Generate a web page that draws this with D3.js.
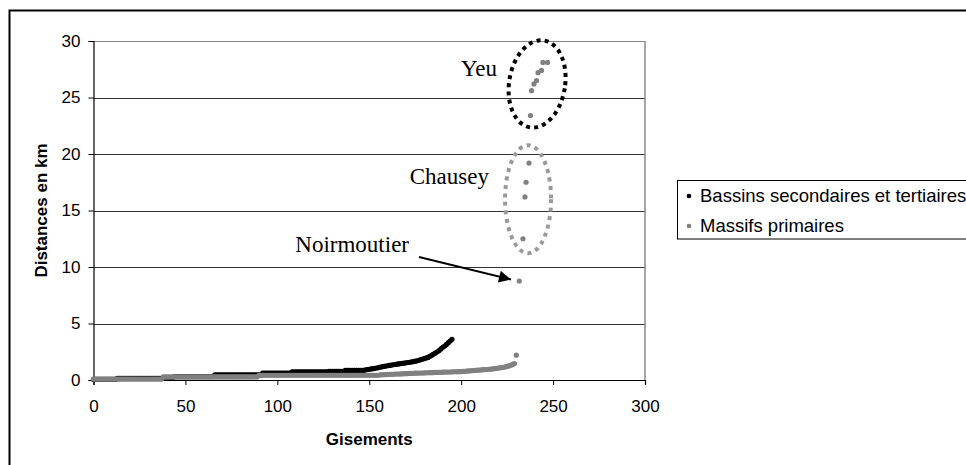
<!DOCTYPE html>
<html>
<head>
<meta charset="utf-8">
<script src="https://cdn.jsdelivr.net/npm/d3@7"></script>
<style>
  html, body { margin: 0; padding: 0; background: #fff; }
  svg { display: block; }
</style>
</head>
<body>
<svg id="chart" width="966" height="465"></svg>
<script>
// ---------- DATA ----------
const seriesNames = ["Bassins secondaires et tertiaires", "Massifs primaires"];

// Bassins secondaires et tertiaires: sorted distances (km), x = rank (0..195)
const bassinsValues = [
  0.05,0.05,0.05,0.05,0.05,0.05,0.05,0.05,0.05,0.05,0.05,0.05,0.05,
  0.15,0.15,0.15,0.15,0.15,0.15,0.15,0.15,0.15,0.15,0.15,0.15,0.15,0.15,0.15,0.15,0.15,0.15,0.15,0.15,0.15,0.15,0.15,0.15,0.15,
  0.2,0.2,0.2,0.2,0.2,0.2,
  0.3,0.3,0.3,0.3,0.3,0.3,0.3,0.3,0.3,0.3,0.3,0.3,0.3,0.3,0.3,0.3,0.3,0.3,0.3,0.3,0.3,0.3,
  0.45,0.45,0.45,0.45,0.45,0.45,0.45,0.45,0.45,0.45,0.45,0.45,0.45,0.45,0.45,0.45,0.45,0.45,0.45,0.45,0.45,0.45,0.45,0.45,0.45,0.45,
  0.6,0.6,0.6,0.6,0.6,0.6,0.6,0.6,0.6,0.6,0.6,0.6,0.6,0.6,0.6,0.6,
  0.72,0.72,0.72,0.72,0.72,0.72,0.72,0.72,0.72,0.72,0.72,0.72,0.72,0.72,0.72,0.72,0.72,0.72,0.72,0.72,
  0.77,0.77,0.77,0.77,0.77,0.77,0.77,0.77,0.77,
  0.85,0.85,0.85,0.85,0.85,0.85,0.85,0.85,0.85,0.85,0.85,
  0.9,0.92,0.95,0.98,1.0,1.03,1.06,1.1,
  1.14,1.17,1.2,1.23,1.26,1.29,1.32,1.35,1.37,1.4,1.42,1.45,1.47,1.5,1.52,1.55,1.57,1.6,
  1.63,1.67,1.7,1.75,1.8,1.85,1.9,1.95,2.0,2.1,
  2.2,2.3,2.4,2.5,2.6,2.75,2.9,
  3.0,3.15,3.3,3.45,3.6
];

// Massifs primaires: sorted distances (km), x = rank (0..230)
const massifsValues = [
  0.08,0.08,0.08,0.08,0.08,0.08,0.08,0.08,0.08,0.08,0.08,0.08,0.08,0.08,0.08,0.08,0.08,0.08,0.08,0.08,
  0.08,0.08,0.08,0.08,0.08,0.08,0.08,0.08,0.08,0.08,0.08,0.08,0.08,0.08,0.08,0.08,0.08,0.08,
  0.27,0.27,0.27,0.27,0.27,0.27,0.27,0.27,0.27,0.27,0.27,0.27,0.27,0.27,0.27,0.27,0.27,0.27,0.27,0.27,
  0.27,0.27,0.27,0.27,0.27,0.27,0.27,0.27,0.27,0.27,0.27,0.27,0.27,0.27,0.27,0.27,0.27,0.27,0.27,0.27,
  0.27,0.27,0.27,0.27,0.27,0.27,0.27,0.27,0.27,0.27,0.27,0.27,
  0.42,0.42,0.42,0.42,0.42,0.42,0.42,0.42,0.42,0.42,0.42,0.42,0.42,0.42,0.42,0.42,0.42,0.42,0.42,0.42,
  0.42,0.42,0.42,0.42,0.42,0.42,0.42,0.42,0.42,0.42,0.42,0.42,0.42,0.42,0.42,0.42,0.42,0.42,0.42,0.42,
  0.42,0.42,0.42,0.42,0.42,0.42,0.42,0.42,0.42,0.42,0.42,0.42,0.42,0.42,0.42,0.42,0.42,0.42,0.42,0.42,
  0.42,0.42,0.42,0.42,0.42,0.42,
  0.46,0.47,0.47,0.48,0.49,0.5,0.5,0.51,0.52,0.53,0.53,0.54,0.55,0.56,0.56,0.57,0.58,0.59,0.59,0.6,
  0.61,0.61,0.62,0.62,0.63,0.64,0.64,0.65,0.65,0.66,0.67,0.67,0.68,0.68,0.69,0.7,0.7,0.71,0.71,0.72,0.73,0.73,0.74,0.74,0.75,
  0.76,0.77,0.79,0.8,0.81,0.83,0.84,0.85,0.87,0.88,0.89,0.91,0.92,0.93,0.95,0.96,
  0.98,1.0,1.02,1.05,1.08,1.1,1.13,1.16,1.2,1.25,
  1.3,1.38,1.45,
  2.2
];

// Massifs primaires: isolated deposits (Noirmoutier, Chausey, Yeu)
const outlierX = [231.6, 233.6, 234.7, 235.3, 236.9, 237.7, 238.3, 239.6, 241.0, 241.8, 243.7, 244.5, 247.0];
const outlierY = [8.76, 12.5, 16.2, 17.5, 19.2, 23.4, 25.6, 26.2, 26.5, 27.2, 27.4, 28.1, 28.1];

const xTicks = [0, 50, 100, 150, 200, 250, 300];
const yTicks = [0, 5, 10, 15, 20, 25, 30];
const xTitle = "Gisements";
const yTitle = "Distances en km";

// annotation labels (island names)
const annoNames = ["Yeu", "Chausey", "Noirmoutier"];

// ---------- LAYOUT ----------
const svg = d3.select("#chart");
const x = d3.scaleLinear().domain([0, 300]).range([93.5, 645]);
const y = d3.scaleLinear().domain([0, 30]).range([380, 41]);
const colBlack = "#000000", colGray = "#808080";
const fontSans = '"Liberation Sans", Arial, sans-serif';
const fontSerif = '"Liberation Serif", "Times New Roman", serif';

// outer frame
svg.append("rect").attr("x", 9.5).attr("y", 10.5).attr("width", 1000).attr("height", 1000)
  .attr("fill", "none").attr("stroke", "#000").attr("stroke-width", 2);

// gridlines
svg.append("g").selectAll("line").data(yTicks.filter(d => d > 0 && d < 30)).join("line")
  .attr("x1", x(0)).attr("x2", x(300))
  .attr("y1", d => Math.round(y(d)) + 0.5).attr("y2", d => Math.round(y(d)) + 0.5)
  .attr("stroke", "#333").attr("stroke-width", 1);
// top & right plot border (gray)
svg.append("line").attr("x1", x(0)).attr("x2", x(300)).attr("y1", y(30) + 0.5).attr("y2", y(30) + 0.5)
  .attr("stroke", "#888").attr("stroke-width", 1);
svg.append("line").attr("x1", x(300)).attr("x2", x(300)).attr("y1", y(30)).attr("y2", y(0))
  .attr("stroke", "#888").attr("stroke-width", 1.5);

// axes
const xAxis = svg.append("g").attr("transform", `translate(0,${y(0)})`)
  .call(d3.axisBottom(x).tickValues(xTicks).tickSize(5).tickPadding(15).tickFormat(d3.format("d")));
const yAxis = svg.append("g").attr("transform", `translate(${x(0)},0)`)
  .call(d3.axisLeft(y).tickValues(yTicks).tickSize(5).tickPadding(8).tickFormat(d3.format("d")));
[xAxis, yAxis].forEach(g => {
  g.select(".domain").attr("stroke", "#000").attr("stroke-width", 1.2);
  g.selectAll(".tick line").attr("stroke", "#000");
  g.selectAll(".tick text").attr("font-family", fontSans).attr("font-size", 17).attr("fill", "#000");
});

// axis titles
svg.append("text").attr("x", (x(0) + x(300)) / 2).attr("y", 445).attr("text-anchor", "middle")
  .attr("font-family", fontSans).attr("font-weight", "bold").attr("font-size", 17).text(xTitle);
svg.append("text").attr("transform", `translate(46.5,${(y(0) + y(30)) / 2}) rotate(-90)`)
  .attr("text-anchor", "middle")
  .attr("font-family", fontSans).attr("font-weight", "bold").attr("font-size", 17).text(yTitle);

// data points
const rDot = 2.6;
svg.append("g").selectAll("circle").data(bassinsValues).join("circle")
  .attr("cx", (d, i) => x(i)).attr("cy", d => y(d)).attr("r", rDot).attr("fill", colBlack);
svg.append("g").selectAll("circle").data(massifsValues).join("circle")
  .attr("cx", (d, i) => x(i)).attr("cy", d => y(d)).attr("r", rDot).attr("fill", colGray);
svg.append("g").selectAll("circle").data(outlierX.map((v, i) => [v, outlierY[i]])).join("circle")
  .attr("cx", d => x(d[0])).attr("cy", d => y(d[1])).attr("r", rDot).attr("fill", colGray);

// ---------- ANNOTATIONS ----------
// Yeu ellipse (black dotted)
svg.append("ellipse")
  .attr("cx", 0).attr("cy", 0).attr("rx", 28).attr("ry", 44)
  .attr("transform", `translate(${x(241.3)},${y(26.2)}) rotate(9)`)
  .attr("fill", "none").attr("stroke", "#000").attr("stroke-width", 4)
  .attr("stroke-dasharray", "4 4.2");
// Chausey ellipse (gray dotted)
svg.append("ellipse")
  .attr("cx", x(236.4)).attr("cy", y(16.0)).attr("rx", 23).attr("ry", 54)
  .attr("fill", "none").attr("stroke", "#999").attr("stroke-width", 4)
  .attr("stroke-dasharray", "4 4.5");

// labels
const annoPos = [[497, 76], [489, 184], [409, 252]];
svg.append("g").selectAll("text").data(annoNames).join("text")
  .attr("x", (d, i) => annoPos[i][0]).attr("y", (d, i) => annoPos[i][1])
  .attr("text-anchor", "end").style("font-family", fontSerif).attr("font-size", 23)
  .attr("fill", "#000").text(d => d);

// Noirmoutier arrow
const defs = svg.append("defs");
defs.append("marker").attr("id", "arrow").attr("viewBox", "0 0 10 10")
  .attr("refX", 10).attr("refY", 5).attr("markerWidth", 8).attr("markerHeight", 6)
  .attr("markerUnits", "strokeWidth").attr("orient", "auto")
  .append("path").attr("d", "M0,0 L10,5 L0,10 Z").attr("fill", "#000");
svg.append("line").attr("x1", 419).attr("y1", 257).attr("x2", 511).attr("y2", 279.5)
  .attr("stroke", "#000").attr("stroke-width", 2).attr("marker-end", "url(#arrow)");

// ---------- LEGEND ----------
const legend = svg.append("g");
legend.append("rect").attr("x", 677.5).attr("y", 180.5).attr("width", 300).attr("height", 58.5)
  .attr("fill", "#fff").attr("stroke", "#000").attr("stroke-width", 1);
const legendRows = [196, 226];
const legendCols = [colBlack, colGray];
seriesNames.forEach((name, i) => {
  legend.append("circle").attr("cx", 689).attr("cy", legendRows[i]).attr("r", 2.3).attr("fill", legendCols[i]);
  legend.append("text").attr("x", 700).attr("y", legendRows[i] + 6)
    .attr("font-family", fontSans).attr("font-size", 18.5).attr("fill", "#000").text(name);
});
</script>
</body>
</html>
